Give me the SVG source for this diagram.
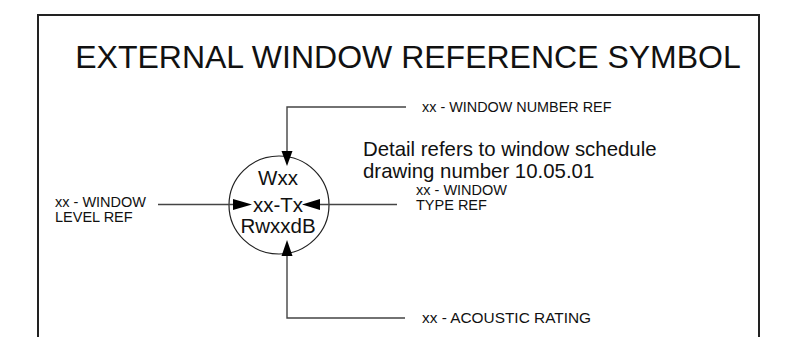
<svg xmlns="http://www.w3.org/2000/svg" width="796" height="337" viewBox="0 0 796 337">
<style>
.t{font-family:"Liberation Sans",Arial,sans-serif;fill:#111}
.lbl{font-size:14.5px}
.lead{stroke:#444;stroke-width:1.4;fill:none}
.arr{fill:#000;stroke:none}
</style>
<rect width="796" height="337" fill="#fff"/>
<g id="frame"><path d="M38,340 V15 H759 V340" fill="none" stroke="#222" stroke-width="2"/></g>
<g id="title"><text class="t" x="408" y="68" font-size="32" text-anchor="middle">EXTERNAL WINDOW REFERENCE SYMBOL</text></g>
<g id="note"><text class="t" x="363" y="156" font-size="20.4">Detail refers to window schedule</text><text class="t" x="363" y="178" font-size="20.4">drawing number 10.05.01</text></g>
<g id="symbol">
<ellipse cx="279" cy="205" rx="50" ry="49" fill="none" stroke="#222" stroke-width="1.2"/>
<text class="t" x="278" y="185" font-size="20.5" text-anchor="middle">Wxx</text>
<text class="t" x="278" y="212" font-size="20.5" text-anchor="middle">xx-Tx</text>
<text class="t" x="278" y="233" font-size="20.5" text-anchor="middle">RwxxdB</text>
</g>
<g id="label-number"><text class="t" x="422" y="112" font-size="14.4">xx - WINDOW NUMBER REF</text></g>
<g id="label-level"><text class="t lbl" x="55" y="207">xx - WINDOW</text><text class="t lbl" x="55" y="222">LEVEL REF</text></g>
<g id="label-type"><text class="t lbl" x="416" y="195">xx - WINDOW</text><text class="t lbl" x="416" y="210">TYPE REF</text></g>
<g id="label-acoustic"><text class="t" x="422" y="323" font-size="15.4">xx - ACOUSTIC RATING</text></g>
<g id="connectors">
<path class="lead" d="M406,107 H287 V152"/>
<polygon class="arr" points="281.5,151 292.5,151 287,166"/>
<path class="lead" d="M158,204.5 H234"/>
<polygon class="arr" points="233,199 233,210 252,204.5"/>
<path class="lead" d="M397,204.5 H319"/>
<polygon class="arr" points="320,199 320,210 302,204.5"/>
<path class="lead" d="M405,318 H287 V255"/>
<polygon class="arr" points="281.5,256 292.5,256 287,240"/>
</g>
</svg>
